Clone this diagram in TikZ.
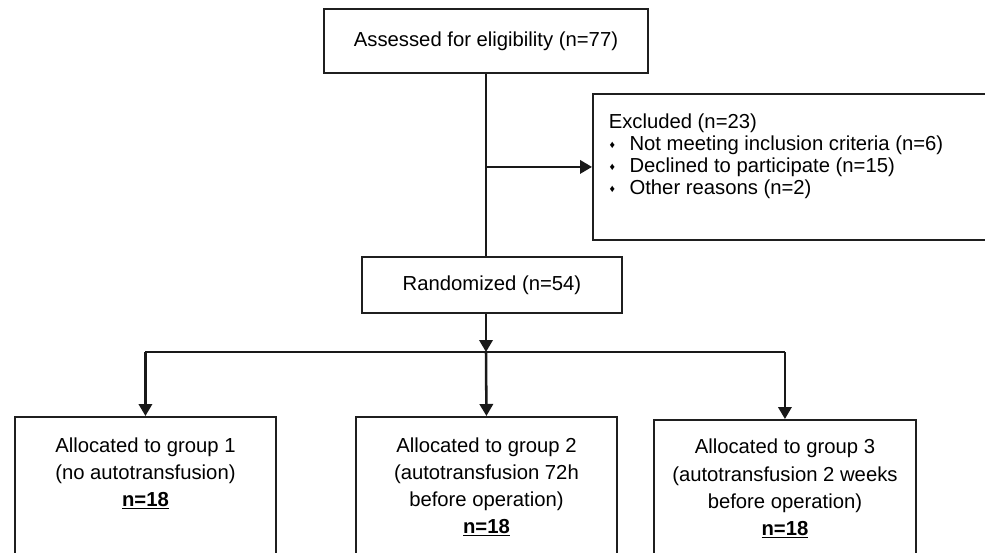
\documentclass[tikz,border=0pt]{standalone}
\usepackage{fontspec}
\setmainfont{Liberation Sans}
\usetikzlibrary{arrows.meta,positioning}

\newcommand{\dmd}{\makebox[15.6pt][l]{\hspace{0.6pt}\raisebox{1.4pt}{\fontsize{8}{8}\selectfont ♦}}}

\begin{document}
\begin{tikzpicture}[x=0.75pt,y=0.75pt,yscale=-1,xscale=1,
  box/.style={draw=black!88, line width=1.4pt, inner sep=0pt},
  txt/.style={inner sep=0pt, align=center, font=\fontsize{15.2}{20.3}\selectfont},
  line/.style={draw=black!90, line width=1.9pt},
  arr/.style={line, -{Triangle[length=9pt,width=10pt]}}]
\useasboundingbox (0,0) rectangle (985,553);
\clip (0,0) rectangle (985,553);

% Boxes
\node[box, txt, minimum width=243pt, minimum height=48pt] (assess) at (486,41) {Assessed for eligibility (n=77)};
\node[box, minimum width=306pt, minimum height=109.5pt, anchor=north west] (excl) at (592,93) {};
\node[box, txt, minimum width=195pt, minimum height=42pt] (rand) at (492,285) {Randomized (n=54)};
\node[box, minimum width=195.75pt, minimum height=150pt, anchor=north west] (grpA) at (14,416) {};
\node[box, minimum width=195.75pt, minimum height=150pt, anchor=north west] (grpB) at (355,416) {};
\node[box, minimum width=196.5pt, minimum height=150pt, anchor=north west] (grpC) at (653,419) {};

% Text Node
\node[txt, align=left, anchor=north west, font=\fontsize{15.2}{16.4}\selectfont] (excltxt) at (608.5,114)
  {Excluded (n=23)\\
   \dmd Not meeting inclusion criteria (n=6)\\
   \dmd Declined to participate (n=15)\\
   \dmd Other reasons (n=2)};
% Text Node
\node[txt, anchor=north] (grpAtxt) at ([yshift=16.1pt]grpA.north)
  {Allocated to group 1\\(no autotransfusion)\\\underline{\textbf{n=18}}};
% Text Node
\node[txt, anchor=north] (grpBtxt) at ([yshift=16.1pt]grpB.north)
  {Allocated to group 2\\(autotransfusion 72h\\before operation)\\\underline{\textbf{n=18}}};
% Text Node
\node[txt, anchor=north] (grpCtxt) at ([yshift=15pt]grpC.north)
  {Allocated to group 3\\(autotransfusion 2 weeks\\before operation)\\\underline{\textbf{n=18}}};

% Connectors
\coordinate (split) at (486,352);
\draw[line] (assess.south) -- (assess.south |- rand.north);
\draw[arr] (assess.south |- excl.west) -- (excl.west);
\draw[arr] (assess.south |- rand.south) -- (split);
\draw[line] (grpA.north |- split) -- (grpC.north |- split);
\draw[arr] (grpA.north |- split) -- (grpA.north);
\draw[arr] (split) -- (grpB.north);
\draw[arr] (grpC.north |- split) -- (grpC.north);

\end{tikzpicture}
\end{document}
